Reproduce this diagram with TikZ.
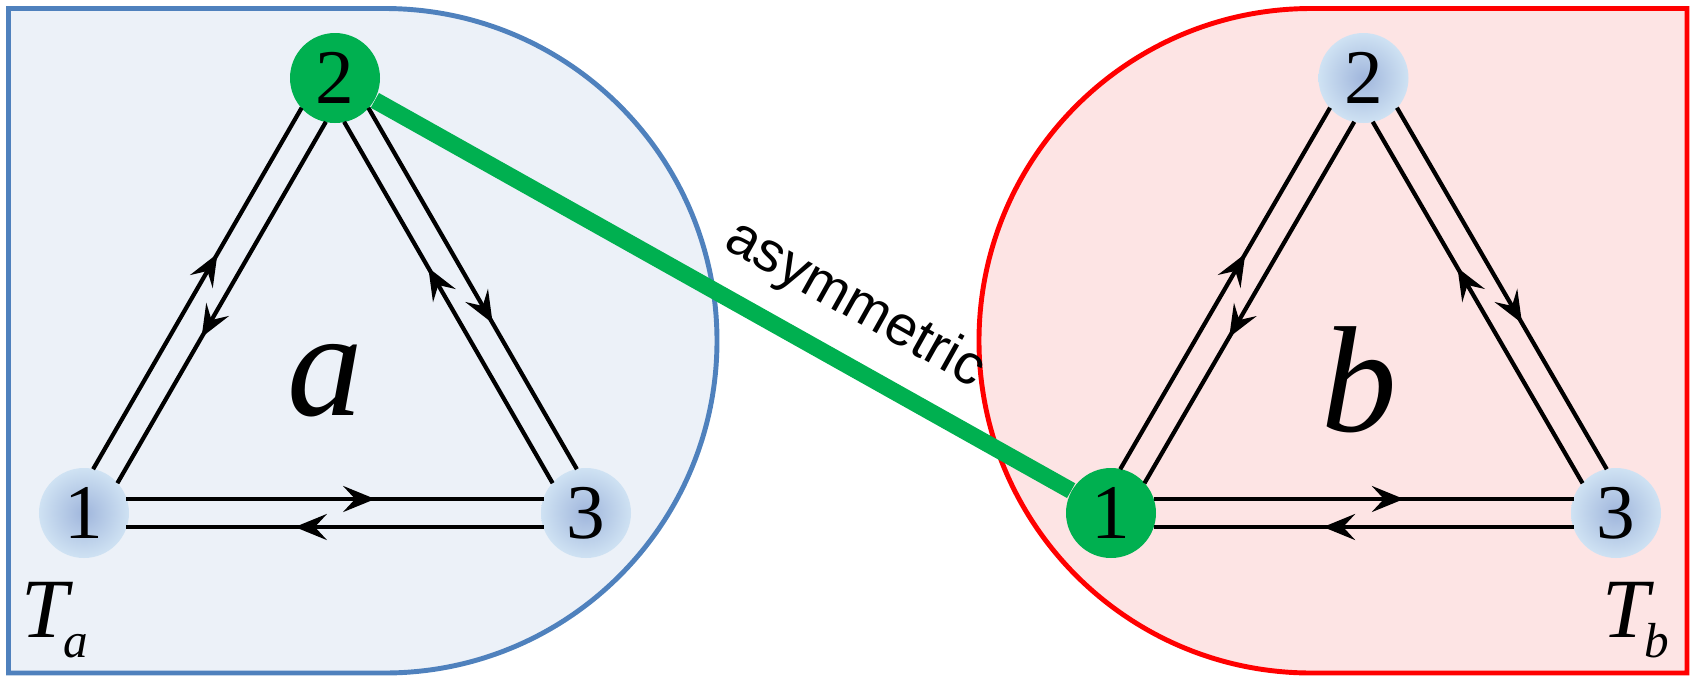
\documentclass[tikz,border=0pt]{standalone}
\usepackage{fontspec}
\setmainfont{Liberation Serif}
\newfontfamily\labelfont{Liberation Sans}
\usetikzlibrary{arrows.meta, calc, decorations.markings, positioning}
\definecolor{boxblue}{RGB}{79,129,189}
\definecolor{boxbluefill}{RGB}{236,241,248}
\definecolor{boxred}{RGB}{255,0,0}
\definecolor{boxredfill}{RGB}{253,228,228}
\definecolor{linkgreen}{RGB}{0,176,80}
\definecolor{siteouter}{RGB}{207,226,243}
\definecolor{siteinner}{RGB}{160,182,220}

\begin{document}
\begin{tikzpicture}[
    site/.style={circle, minimum size=9mm, inner sep=0pt, shading=radial, inner color=siteinner, outer color=siteouter, font=\fontsize{22}{22}\selectfont},
    green site/.style={circle, minimum size=9mm, inner sep=0pt, fill=linkgreen, font=\fontsize{22}{22}\selectfont},
    flow/.style={line width=1.2pt, shorten <=4.25mm, shorten >=4.25mm, postaction={decorate},
        decoration={markings, mark=at position 0.58 with {\arrow{Stealth[length=3.2mm, width=2.6mm, inset=1.2mm]}}}},
    link/.style={line width=4.8pt, linkgreen},
    cell/.style={font=\fontsize{43}{43}\selectfont\itshape},
    tlabel/.style={anchor=base west, inner sep=0pt}
]
\useasboundingbox (0,0) rectangle (16.93,6.77);

% 两个区域
\draw[boxblue, fill=boxbluefill, line width=1.4pt] (3.8475,6.685) -- (0.085,6.685) -- (0.085,0.04) -- (3.8475,0.04) arc[start angle=-90, end angle=90, radius=3.3225] -- cycle;
\draw[boxred, fill=boxredfill, line width=1.4pt] (13.1125,6.685) -- (16.87,6.685) -- (16.87,0.04) -- (13.1125,0.04) arc[start angle=270, end angle=90, radius=3.3225] -- cycle;

% 顶点
\node[site] (a1) at (0.84,1.64) {1};
\node[green site] (a2) at (3.35,5.99) {2};
\node[site] (a3) at (5.86,1.64) {3};
\node[green site] (b1) at (11.11,1.64) {1};
\node[site] (b2) at (13.635,5.99) {2};
\node[site] (b3) at (16.16,1.64) {3};

% 双向边
\foreach \s/\t in {a1/a2, a2/a3, a3/a1, a2/a1, a3/a2, a1/a3, b1/b2, b2/b3, b3/b1, b2/b1, b3/b2, b1/b3}
    \draw[flow] ($(\s)!1.4mm!90:(\t)$) -- ($(\t)!1.4mm!-90:(\s)$);

% 连接
\draw[link] (a2) -- node[sloped, above=1mm, pos=0.65, text=black, font=\labelfont\fontsize{16}{16}\selectfont] (asym) {asymmetric} (b1);

% 标注
\node[cell] (la) at (3.25,2.96) {a};
\node[cell] (lb) at (13.59,2.97) {b};
\node[tlabel] (ta) at (0.21,0.40) {\fontsize{24}{24}\selectfont\itshape T\kern-1.5pt\raisebox{-2mm}{\fontsize{14}{14}\selectfont a}};
\node[tlabel] (tb) at (16.02,0.40) {\fontsize{24}{24}\selectfont\itshape T\kern-1.5pt\raisebox{-2mm}{\fontsize{14}{14}\selectfont b}};
\end{tikzpicture}
\end{document}
